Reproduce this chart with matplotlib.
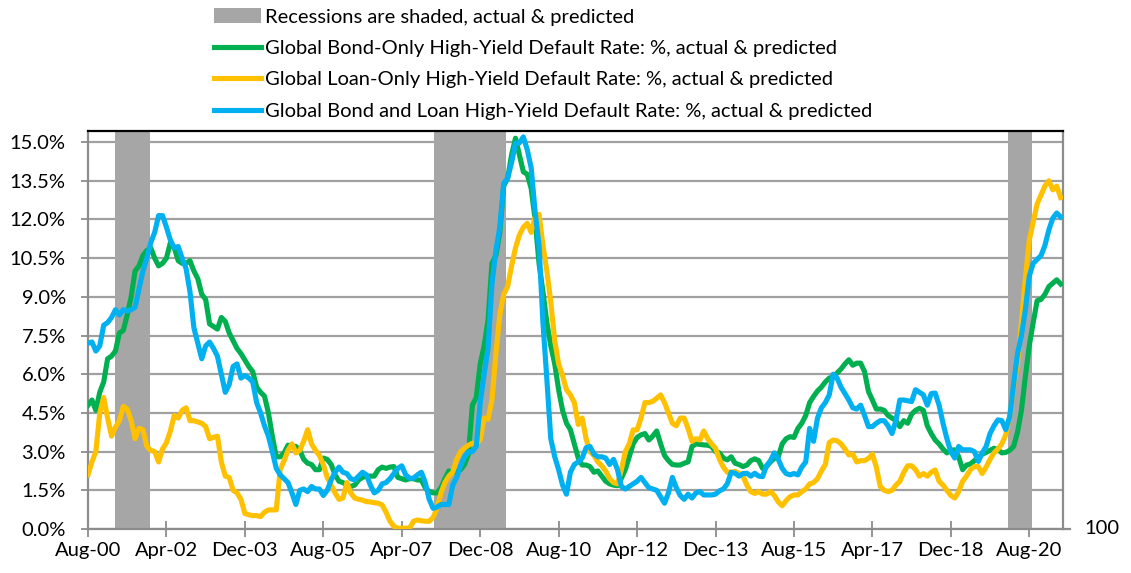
import matplotlib
matplotlib.use("Agg")
import matplotlib.pyplot as plt
from matplotlib.patches import Patch
from matplotlib.lines import Line2D
import numpy as np

# ---------------- data (monthly, Aug-00 .. Apr-21) ----------------
tick_labels = ["Aug-00", "Apr-02", "Dec-03", "Aug-05", "Apr-07", "Dec-08", "Aug-10",
               "Apr-12", "Dec-13", "Aug-15", "Apr-17", "Dec-18", "Aug-20"]
tick_step = 20  # months between labels

# recession spans in month index (0 = Aug-00)
recessions = [(7.0, 15.8), (88.1, 106.6), (234.7, 240.8)]

bond_only = [
    4.8, 5.0, 4.6, 5.3, 5.7, 6.6, 6.7, 6.9, 7.6, 7.7, 8.3, 9.0, 10.0, 10.2, 10.6, 10.8, 10.9,
    10.5, 10.2, 10.3, 10.5, 11.1, 10.9, 10.4, 10.3, 10.3, 10.4, 10.0, 9.7, 9.1, 8.9, 7.95, 7.85,
    7.75, 8.2, 8.05, 7.6, 7.3, 7.0, 6.8, 6.55, 6.3, 6.1, 5.5, 5.3, 5.15, 4.5, 3.6, 2.8, 2.8,
    2.95, 3.25, 3.2, 3.2, 3.05, 2.7, 2.55, 2.5, 2.3, 2.3, 2.75, 2.7, 2.5, 2.1,
    1.85, 1.8, 1.7, 1.65, 1.7, 1.9, 2.0, 2.05, 2.05, 2.05, 2.3, 2.4, 2.35, 2.4, 2.42, 2.0,
    1.95, 1.9, 1.95, 1.95, 1.9, 1.9, 1.6, 1.45, 1.4, 1.4, 1.6, 1.95, 2.25, 2.2,
    2.2, 2.3, 2.5, 2.9, 4.8, 5.1, 6.4, 7.1, 8.1, 10.3, 10.6, 11.5, 13.3, 13.6, 14.5, 15.15,
    14.5, 13.85, 13.75, 13.2, 12.0, 10.3, 9.2, 8.0, 7.1, 6.4, 5.4, 4.6, 4.1, 3.85, 3.3,
    2.75, 2.48, 2.48, 2.42, 2.2, 2.25, 2.05, 1.85, 1.75, 1.7, 1.68, 1.97, 2.3, 2.8, 3.3,
    3.55, 3.65, 3.7, 3.45, 3.6, 3.8, 3.3, 2.85, 2.65, 2.5, 2.48, 2.48, 2.55, 2.6, 3.2,
    3.3, 3.28, 3.26, 3.25, 3.2, 3.0, 2.95, 2.75, 2.68, 2.8, 2.55, 2.5, 2.42, 2.48, 2.65,
    2.72, 2.65, 2.35, 2.42, 2.6, 2.74, 2.8, 3.3, 3.5, 3.58, 3.55, 3.9, 4.1, 4.4, 4.9, 5.14,
    5.35, 5.5, 5.7, 5.85, 5.9, 6.05, 6.2, 6.4, 6.56, 6.35, 6.43, 6.43, 6.1, 5.33, 5.0,
    4.65, 4.65, 4.6, 4.4, 4.3, 4.2, 3.97, 4.2, 4.1, 4.45, 4.6, 4.68, 4.6, 4.0, 3.7,
    3.45, 3.3, 3.1, 2.95, 3.05, 3.07, 2.8, 2.3, 2.48, 2.52, 2.65, 2.78, 2.9, 2.97, 3.05,
    3.13, 3.08, 2.95, 2.97, 3.05, 3.2, 3.75, 4.6, 5.9, 7.1, 8.0, 8.85, 8.9, 9.1, 9.4,
    9.53, 9.66, 9.5,
]

loan_only = [
    2.1, 2.6, 3.0, 4.5, 5.1, 4.3, 3.6, 3.95, 4.2, 4.75, 4.65, 4.2, 3.5, 3.9, 3.85, 3.2, 3.05,
    3.0, 2.6, 3.1, 3.35, 3.8, 4.4, 4.3, 4.6, 4.7, 4.2, 4.2, 4.15, 4.1, 3.97, 3.5, 3.55,
    3.6, 2.6, 2.05, 2.0, 1.5, 1.4, 1.15, 0.6, 0.55, 0.52, 0.52, 0.48, 0.65, 0.74, 0.74, 0.74,
    2.3, 2.65, 3.05, 3.3, 2.95, 3.05, 3.4, 3.85, 3.3, 3.05, 2.85, 2.5, 2.0, 1.7, 1.4,
    1.15, 1.2, 1.8, 1.4, 1.2, 1.15, 1.12, 1.06, 1.05, 1.02, 1.0, 0.93, 0.65, 0.3, 0.1, 0.03,
    0.03, 0.03, 0.03, 0.3, 0.35, 0.32, 0.3, 0.3, 0.45, 0.8, 1.4, 1.8, 2.05, 2.2,
    2.7, 3.0, 3.13, 3.25, 3.32, 3.32, 3.45, 4.3, 4.25, 5.0, 6.8, 8.3, 9.1, 9.4, 10.2, 10.9,
    11.4, 11.7, 11.85, 11.5, 12.1, 12.2, 11.0, 10.0, 8.8, 7.3, 6.4, 5.95, 5.4, 5.2, 4.9,
    4.05, 4.3, 3.5, 3.0, 2.85, 2.6, 2.45, 2.25, 1.95, 1.8, 1.75, 2.3, 3.0, 3.3, 3.84,
    3.84, 4.3, 4.9, 4.9, 4.95, 5.07, 5.2, 4.9, 4.5, 4.1, 4.0, 4.3, 4.3, 3.9, 3.4,
    3.5, 3.45, 3.8, 3.5, 3.3, 3.13, 2.7, 2.4, 2.2, 2.2, 2.23, 2.16, 2.05, 1.7, 1.45,
    1.38, 1.45, 1.35, 1.35, 1.45, 1.3, 1.05, 0.9, 1.1, 1.25, 1.32, 1.32, 1.45, 1.55, 1.75, 1.8,
    1.95, 2.25, 2.5, 3.35, 3.45, 3.42, 3.3, 3.1, 2.87, 2.9, 2.6, 2.65, 2.65, 2.74, 2.9,
    2.4, 1.65, 1.5, 1.45, 1.5, 1.7, 1.85, 2.2, 2.45, 2.45, 2.3, 2.05, 2.15, 2.05, 2.2,
    2.29, 1.85, 1.7, 1.5, 1.3, 1.2, 1.45, 1.85, 2.05, 2.3, 2.42, 2.42, 2.15, 2.4, 2.7,
    2.95, 3.1, 3.3, 3.65, 4.35, 5.5, 6.4, 8.0, 9.7, 11.2, 11.9, 12.6, 12.95, 13.3, 13.5,
    13.15, 13.29, 12.85,
]

bond_and_loan = [
    7.2, 7.25, 6.9, 7.1, 7.9, 8.0, 8.2, 8.5, 8.3, 8.5, 8.45, 8.5, 8.6, 9.3, 10.0, 10.5, 11.1,
    11.5, 12.15, 12.15, 11.7, 11.2, 10.9, 10.95, 10.5, 10.1, 9.2, 7.8, 7.2, 6.6, 7.1, 7.25, 7.0,
    6.7, 6.0, 5.3, 5.6, 6.3, 6.4, 5.85, 5.95, 5.85, 5.7, 4.9, 4.5, 4.0, 3.6, 3.0, 2.35, 2.1,
    1.95, 1.8, 1.4, 0.95, 1.5, 1.55, 1.45, 1.65, 1.55, 1.55, 1.3, 1.5, 1.9, 2.2,
    2.4, 2.2, 2.15, 1.95, 1.9, 2.05, 2.2, 2.1, 1.7, 1.4, 1.5, 1.75, 1.8, 1.95, 2.15, 2.35,
    2.45, 2.1, 1.97, 1.97, 2.1, 2.2, 1.8, 1.15, 0.8, 0.85, 0.95, 0.95, 0.95, 1.7,
    2.0, 2.45, 2.8, 3.0, 3.0, 3.2, 4.9, 6.0, 7.0, 9.5, 10.8, 11.7, 13.4, 13.6, 14.2, 14.95,
    14.97, 15.2, 14.7, 14.0, 12.3, 11.0, 8.0, 5.8, 3.5, 2.8, 2.3, 1.7, 1.35, 2.2, 2.5,
    2.6, 2.75, 3.15, 3.2, 2.9, 2.8, 2.8, 2.75, 2.5, 2.7, 2.3, 1.65, 1.55, 1.65, 1.75,
    1.85, 2.0, 1.8, 1.6, 1.55, 1.5, 1.25, 1.0, 1.4, 2.0, 1.6, 1.3, 1.15, 1.35, 1.2,
    1.4, 1.45, 1.32, 1.32, 1.32, 1.35, 1.48, 1.55, 1.75, 2.2, 2.16, 2.05, 2.15, 2.16, 2.05,
    2.16, 2.05, 2.03, 2.45, 2.65, 2.95, 2.7, 2.35, 2.15, 2.1, 2.15, 2.1, 2.4, 2.6, 3.9, 3.4,
    4.3, 4.7, 4.9, 5.2, 6.0, 5.85, 5.5, 5.25, 5.0, 4.7, 4.65, 4.8, 4.4, 3.97, 3.97,
    4.1, 4.2, 4.2, 4.0, 3.7, 4.2, 5.0, 5.0, 4.97, 4.94, 5.4, 5.3, 5.2, 4.8, 5.25,
    5.27, 4.8, 4.1, 3.5, 3.0, 2.75, 3.2, 3.07, 3.07, 3.07, 3.0, 2.62, 2.95, 3.2, 3.7,
    4.0, 4.23, 4.2, 3.85, 4.35, 5.6, 6.8, 7.5, 8.5, 9.8, 10.3, 10.45, 10.6, 11.0, 11.6,
    12.05, 12.25, 12.1,
]

labels = [
    "Recessions are shaded, actual & predicted",
    "Global Bond-Only High-Yield Default Rate: %, actual & predicted",
    "Global Loan-Only High-Yield Default Rate: %, actual & predicted",
    "Global Bond and Loan High-Yield Default Rate: %, actual & predicted",
]

# ---------------- styling ----------------
GREEN = "#00B050"
YELLOW = "#FFC000"
BLUE = "#00B0F0"
SHADE = "#A6A6A6"
GRID = "#A0A0A0"
AXIS = "#8C8C8C"
FS = 14.5

plt.rcParams["font.family"] = ["Lato", "DejaVu Sans"]

W, H = 1131, 573
fig = plt.figure(figsize=(W / 100, H / 100), dpi=100)
left, right, bottom, top = 88, 1063, 529, 131
ax = fig.add_axes([left / W, (H - bottom) / H, (right - left) / W, (bottom - top) / H])

n = len(bond_only)
x = np.arange(n)

for s, e in recessions:
    ax.axvspan(s, e, color=SHADE, lw=0, zorder=1)

lw = 3.7
ax.plot(x, bond_only, color=GREEN, lw=lw, zorder=3, solid_joinstyle="round")
ax.plot(x, loan_only, color=YELLOW, lw=lw, zorder=4, solid_joinstyle="round")
ax.plot(x, bond_and_loan, color=BLUE, lw=lw, zorder=5, solid_joinstyle="round")

ax.set_xlim(0, 248.6)
ax.set_ylim(0, 15.43)

yt = np.arange(0, 15.01, 1.5)
ax.set_yticks(yt)
ax.set_yticklabels([f"{v:.1f}%" for v in yt], fontsize=FS)
ax.yaxis.grid(True, color=GRID, lw=1.6, zorder=0)
ax.set_axisbelow(True)

xt = np.arange(0, tick_step * len(tick_labels), tick_step)
ax.set_xticks(xt)
ax.set_xticklabels(tick_labels, fontsize=FS)

ax.tick_params(axis="y", direction="out", length=5, width=1.3, color=AXIS, pad=11, labelcolor="black")
ax.tick_params(axis="x", direction="inout", length=11, width=1.3, color=AXIS, pad=4, labelcolor="black")

for side in ["left", "right", "bottom"]:
    ax.spines[side].set_color(AXIS)
    ax.spines[side].set_linewidth(1.6)
ax.spines["top"].set_color("black")
ax.spines["top"].set_linewidth(1.6)

# extension of the bottom axis and stray "100" label (secondary axis artefact)
fig.add_artist(Line2D([right / W, 1070 / W], [(H - bottom) / H] * 2, color=AXIS, lw=1.6))
fig.text(1084 / W, (H - bottom) / H, "100", fontsize=FS, va="center", ha="left")

handles = [
    Patch(facecolor=SHADE, edgecolor="none"),
    Line2D([], [], color=GREEN, lw=lw),
    Line2D([], [], color=YELLOW, lw=lw),
    Line2D([], [], color=BLUE, lw=lw),
]
fig.legend(handles, labels, loc="upper left", bbox_to_anchor=(214 / W, 1 - 8 / H),
           frameon=False, fontsize=FS, handlelength=2.35, handleheight=0.8,
           handletextpad=0.2, labelspacing=0.68, borderpad=0, borderaxespad=0)

fig.savefig("out.png", dpi=100)
